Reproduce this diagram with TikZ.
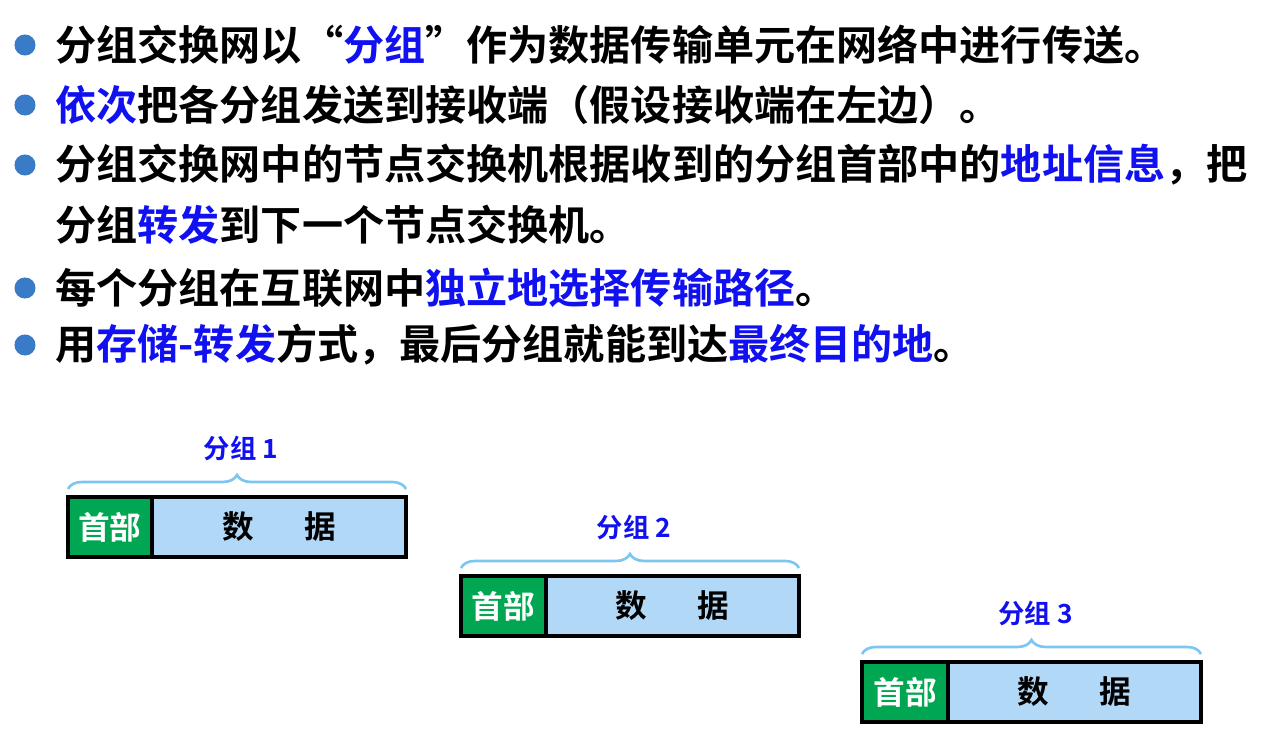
\documentclass[tikz,border=0pt]{standalone}
\usepackage{fontspec}
\setmainfont{Noto Sans CJK SC Bold}
\usetikzlibrary{decorations.pathreplacing}
\definecolor{bul}{HTML}{3A7BC8}
\definecolor{hl}{HTML}{1010F0}
\definecolor{hdr}{HTML}{00A651}
\definecolor{dat}{HTML}{B2D8F7}
\definecolor{brc}{HTML}{7CC6F0}
\begin{document}
\begin{tikzpicture}[x=0.02cm,y=-0.02cm,
  line/.style={anchor=west,inner sep=0,font=\fontsize{23.4}{26}\selectfont},
  dot/.style={circle,fill=bul,minimum size=12pt,inner sep=0},
  hbox/.style={draw=black,line width=1.8pt,fill=hdr,text=white,inner sep=0,font=\fontsize{18}{20}\selectfont},
  dbox/.style={draw=black,line width=1.8pt,fill=dat,inner sep=0,font=\fontsize{18}{20}\selectfont},
  brlab/.style={text=hl,font=\fontsize{15}{18}\selectfont},
  br/.style={draw=brc,line width=1.5pt,decorate,decoration={brace,amplitude=8pt}}]
\useasboundingbox (0,0) rectangle (1276,739);
\foreach \n/\y in {1/45,2/105,3/165,4/288,5/345}{\node[dot] (b\n) at (25,\y) {};}
\node[line] (t1) at (55,45) {分组交换网以“\textcolor{hl}{分组}”作为数据传输单元在网络中进行传送。};
\node[line] (t2) at (55,105) {\textcolor{hl}{依次}把各分组发送到接收端（假设接收端在左边）。};
\node[line] (t3) at (55,165) {分组交换网中的节点交换机根据收到的分组首部中的\textcolor{hl}{地址信息}，把};
\node[line] (t3b) at (55,225) {分组\textcolor{hl}{转发}到下一个节点交换机。};
\node[line] (t4) at (55,288) {每个分组在互联网中\textcolor{hl}{独立地选择传输路径}。};
\node[line] (t5) at (55,345) {用\textcolor{hl}{存储-转发}方式，最后分组就能到达\textcolor{hl}{最终目的地}。};
\foreach \i/\x/\y/\hx/\ex in {1/68/497/152/406,2/461/576/546/799,3/862/662/948/1201}{
  \path[hbox] (\x,\y) rectangle (\hx,\y+60);
  \node[text=white,font=\fontsize{18}{20}\selectfont] (h\i) at ({(\x+\hx)/2},\y+30) {首部};
  \path[dbox] (\hx,\y) rectangle (\ex,\y+60);
  \node[font=\fontsize{18}{20}\selectfont] (d\i) at ({(\hx+\ex)/2},\y+30) {数\hspace{1.6em}据};
  \coordinate (l\i) at (\x,\y-8);
  \coordinate (r\i) at (\ex,\y-8);
  \draw[br] (l\i) -- (r\i);
  \node[brlab] (g\i) at ({(\x+\ex)/2+4},\y-49) {分组 \i};
}
\end{tikzpicture}
\end{document}
